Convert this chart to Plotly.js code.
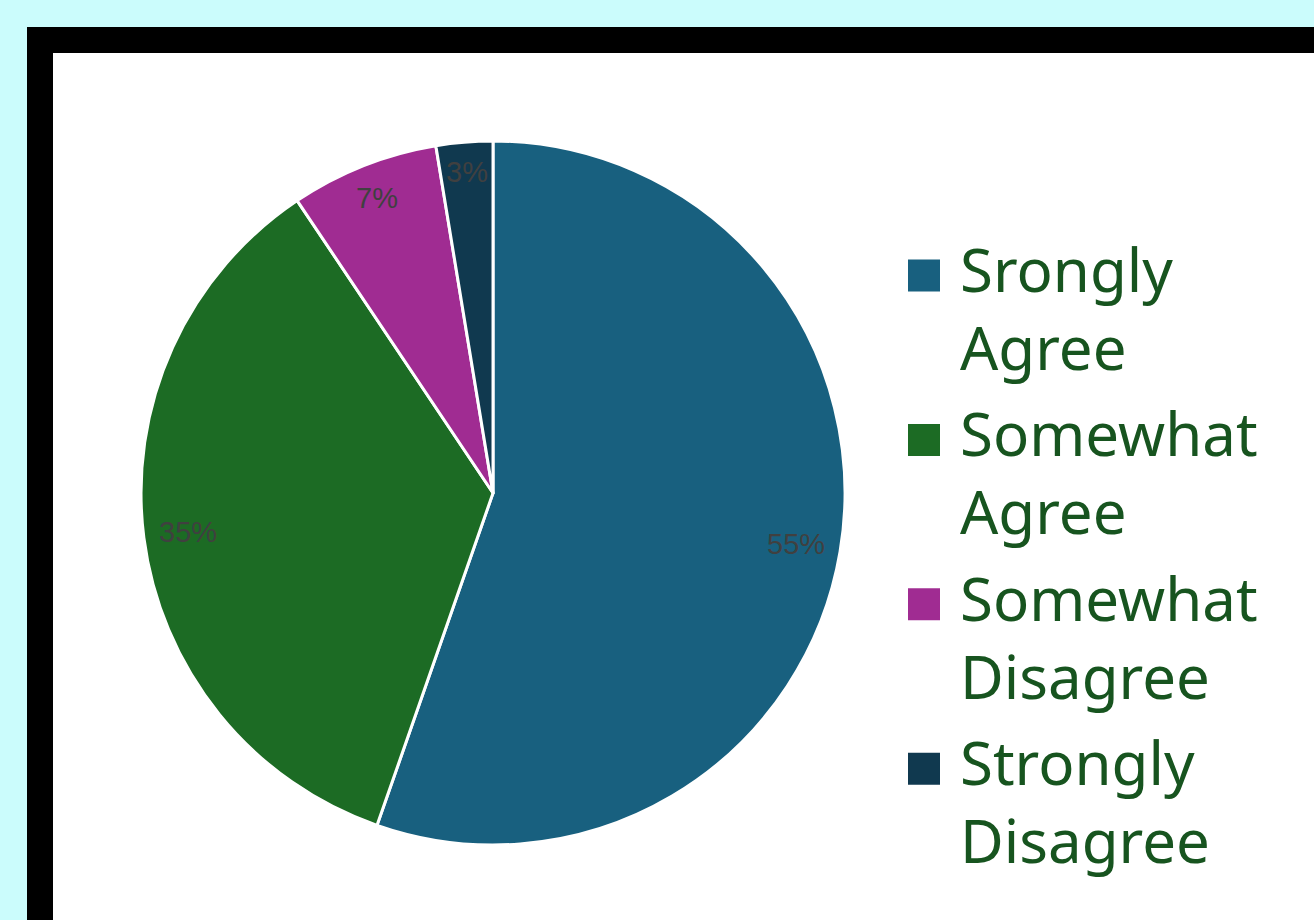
<!DOCTYPE html>
<html>
<head>
<meta charset="utf-8">
<script src="https://cdn.plot.ly/plotly-3.0.1.min.js"></script>
<style>
  html, body { margin: 0; padding: 0; background: #cbfcfc; }
  #chart { width: 1314px; height: 920px; }
</style>
</head>
<body>
<div id="chart"></div>
<script>
// ---- data ----
const categories = ['Srongly Agree', 'Somewhat Agree', 'Somewhat Disagree', 'Strongly Disagree'];
const values = [55.4, 35.3, 6.8, 2.6];
const colors = ['#18607f', '#1c6b24', '#a02c92', '#10394f'];

// ---- layout constants ----
const W = 1314, H = 920;
const dom = { x: [0.1073, 0.6431], y: [0.0815, 0.8467] };
const labelFontSize = 29;
const labelFont = 'Liberation Sans, Arial, sans-serif';

const legendNames = categories.map(c => c.replace(' ', '<br>'));
const total = values.reduce((a, b) => a + b, 0);

// pie geometry (pixels, from top-left)
const cx = (dom.x[0] + dom.x[1]) / 2 * W;
const cy = (1 - (dom.y[0] + dom.y[1]) / 2) * H;
const R = Math.min((dom.x[1] - dom.x[0]) * W, (dom.y[1] - dom.y[0]) * H) / 2;

// measure text
const ctx = document.createElement('canvas').getContext('2d');
ctx.font = labelFontSize + 'px "Liberation Sans"';

// data labels at "inside end"
let cum = 0;
const annotations = values.map((v, i) => {
  const mid = (cum + v / 2) / total;
  cum += v;
  const th = mid * 2 * Math.PI;
  const dx = Math.sin(th), dy = -Math.cos(th);
  const txt = Math.round(v / total * 100) + '%';
  const hw = ctx.measureText(txt).width / 2;
  const hh = labelFontSize * 0.5;
  const r = R - 14 - (hw * Math.abs(dx) + hh * Math.abs(dy));
  return {
    text: txt, showarrow: false, xref: 'paper', yref: 'paper',
    x: (cx + r * dx) / W, y: 1 - (cy + r * dy) / H,
    xanchor: 'center', yanchor: 'middle',
    font: { family: labelFont, size: labelFontSize, color: '#404040' }
  };
});

const trace = {
  type: 'pie',
  labels: legendNames,
  values: values,
  sort: false,
  direction: 'clockwise',
  rotation: 0,
  textinfo: 'none',
  hoverinfo: 'label+percent',
  marker: { colors: colors, line: { color: '#ffffff', width: 3 } },
  domain: dom
};

const layout = {
  width: W, height: H,
  margin: { l: 0, r: 0, t: 0, b: 0 },
  paper_bgcolor: '#cbfcfc',
  showlegend: true,
  legend: {
    x: 905 / W, xanchor: 'left',
    y: 1 - 223 / H, yanchor: 'top',
    valign: 'top',
    itemwidth: 45,
    bgcolor: 'rgba(0,0,0,0)',
    font: { family: 'Noto Sans, sans-serif', size: 60, color: '#17541f' },
    itemclick: false, itemdoubleclick: false
  },
  shapes: [
    { type: 'rect', layer: 'below', xref: 'paper', yref: 'paper',
      x0: 27 / W, x1: 1.2, y0: -0.2, y1: 1 - 27 / H,
      fillcolor: '#000000', line: { width: 0 } },
    { type: 'rect', layer: 'below', xref: 'paper', yref: 'paper',
      x0: 53 / W, x1: 1.2, y0: -0.2, y1: 1 - 53 / H,
      fillcolor: '#ffffff', line: { width: 0 } }
  ],
  annotations: annotations
};

Plotly.newPlot('chart', [trace], layout, { displayModeBar: false, staticPlot: true }).then(() => {
  // allow slightly looser legend spacing without clipping
  document.querySelectorAll('#chart .legend .scrollbox').forEach(s => s.removeAttribute('clip-path'));
  document.querySelectorAll('#chart .legend g.traces').forEach((item, i) => {
    // enlarge legend swatches (32px squares, 20px before the text)
    const p = item.querySelector('.legendpoints path');
    const t = item.querySelector('text.legendtext');
    if (p && t) {
      const pb = p.getBoundingClientRect();
      const tb = t.getBoundingClientRect();
      const centerX = pb.left + pb.width / 2;
      const left = (tb.left - 20 - 32) - centerX;
      const top = -9, bot = 23;
      p.setAttribute('d', 'M' + (left + 32) + ',' + bot + 'H' + left + 'V' + top + 'H' + (left + 32) + 'Z');
      p.style.strokeWidth = '0px';
    }
    // extra gap between entries
    const tr = item.getAttribute('transform') || '';
    const m = tr.match(/translate\(\s*([-\d.e]+)[ ,]+([-\d.e]+)\s*\)/);
    if (m) item.setAttribute('transform', 'translate(' + m[1] + ',' + (parseFloat(m[2]) + i * 5.4) + ')');
  });
});
</script>
</body>
</html>
